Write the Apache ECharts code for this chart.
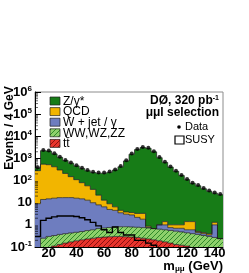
<!DOCTYPE html>
<html><head><meta charset="utf-8">
<script src="https://cdn.jsdelivr.net/npm/echarts@6/dist/echarts.min.js"></script>
<style>html,body{margin:0;padding:0;background:#fff}#c{width:249px;height:273px}</style>
</head><body><div id="c"></div>
<script>
// ---- data (4 GeV bins, bin centres in GeV) ----
const binCenters = [12,16,20,24,28,32,36,40,44,48,52,56,60,64,68,72,76,80,84,88,92,96,100,104,108,112,116,120,124,128,132,136,140,144];
const binWidth = 4;
const dataCounts = [400,2400,2300,1700,1200,850,650,490,380,300,250,230,230,255,320,450,820,1650,2650,3300,3000,2100,1150,700,430,280,180,118,80,63,46,36,29,25];
const zgamma = [90,1700,1630,1180,820,590,460,350,275,222,192,193,202,229,293,415,766,1546,2497,3097,2849,1979,1079,659,404,261,167,108.6,73.6,57.5,42.5,32.6,25.7,22.8];
const qcd = [271,536,505,404,283,193,133,94,65,45,30,14,6.5,4,2,1,0.8,0.8,1.1,1.5,0.1,0,0,0.4,0.25,0.3,0.3,0.8,0.8,0.05,0.05,0.05,0.3,0];
const wjet = [9,13.75,14.7,15.67,16.6,16.6,16.6,15.5,14.5,12.45,9.4,7.3,5.8,4.2,3.7,2.7,2.2,2.0,1.4,1.05,0.05,0,0.36,0.4,0.19,0.18,0.22,0.16,0.2,0.08,0.07,0.05,0.73,0];
const diboson = [0.05,0.25,0.30,0.22,0.24,0.25,0.26,0.27,0.29,0.32,0.35,0.41,0.44,0.47,0.50,0.52,0.53,0.52,0.51,0.50,0.49,0.47,0.45,0.43,0.41,0.39,0.36,0.33,0.31,0.29,0.26,0.24,0.22,0.19];
const ttbar = [0,0,0,0.11,0.13,0.15,0.17,0.19,0.21,0.23,0.25,0.27,0.28,0.29,0.30,0.30,0.29,0.28,0.27,0.25,0.23,0.21,0.19,0.17,0.15,0.13,0.12,0.11,0.09,0.08,0.07,0.06,0.05,0.05];
const susy = [0.3,1.6,2.0,2.3,2.5,2.5,2.5,2.4,2.1,1.7,1.3,0.9,0.6,0.45,0.8,0.45,0.35,0.35,0.2,0.2,0.15,0.12,0.08,0.07,0.06,0.05,0.05,0.05,0.05,0.05,0.05,0.05,0.05,0.05];
const xTicks = [20,40,60,80,100,120,140];
const yTicks = [0.1,1,10,100,1000,10000,100000,1000000];
const legendNames = ['Z/γ*','QCD','W + jet / γ','WW,WZ,ZZ','tt̄'];

const FONT = '"Liberation Sans", Arial, Helvetica, sans-serif';
function hatch(bg, fg) {
  const c = document.createElement('canvas'); c.width = 5; c.height = 5;
  const g = c.getContext('2d'); g.fillStyle = bg; g.fillRect(0,0,5,5);
  g.strokeStyle = fg; g.lineWidth = 1;
  g.beginPath();
  g.moveTo(-1,6); g.lineTo(6,-1);
  g.moveTo(-1,1); g.lineTo(1,-1);
  g.moveTo(4,6); g.lineTo(6,4);
  g.stroke();
  return {image: c, repeat: 'repeat'};
}
const fills = [hatch('#e8342c','#8a0f0f'), hatch('#8ed06b','#2f8a2a'), '#6e7dbf', '#f2b500', '#177c17'];
const layers = [ttbar, diboson, wjet, qcd, zgamma];
const cum = [];
let running = binCenters.map(() => 0);
layers.forEach(arr => { running = running.map((v, i) => v + arr[i]); cum.push(running.slice()); });
const FLOOR = 0.01;

function stepPoints(api, vals) {
  const pts = [];
  binCenters.forEach((c, i) => {
    const v = Math.max(vals[i], FLOOR);
    pts.push(api.coord([c - binWidth/2, v]));
    pts.push(api.coord([c + binWidth/2, v]));
  });
  return pts;
}

const stackSeries = {
  type: 'custom', clip: true, z: 2, silent: true,
  data: [[binCenters[0], 1]],
  renderItem(params, api) {
    const children = [];
    for (let L = 0; L < layers.length; L++) {
      const top = stepPoints(api, cum[L]);
      const bot = L === 0 ? stepPoints(api, binCenters.map(() => FLOOR)) : stepPoints(api, cum[L-1]);
      const poly = top.concat(bot.reverse());
      children.push({type: 'polygon', shape: {points: poly}, style: {fill: fills[L], stroke: null}});
    }
    for (let L = 0; L < layers.length; L++) {
      children.push({type: 'polyline', shape: {points: stepPoints(api, cum[L])}, style: {stroke: '#1c1c1c', lineWidth: 0.7, fill: null}});
    }
    return {type: 'group', children};
  }
};

const susySeries = {
  type: 'custom', clip: true, z: 4, silent: true,
  data: [[binCenters[0], 1]],
  renderItem(params, api) {
    const pts = stepPoints(api, susy);
    return {type: 'polyline', shape: {points: pts}, style: {stroke: '#000', lineWidth: 1.4, fill: null}};
  }
};

const minorTickSeries = {
  type: 'custom', clip: false, z: 5, silent: true,
  data: [[binCenters[0], 1]],
  renderItem(params, api) {
    const children = [];
    for (let e = -1; e < 6; e++) {
      for (let m = 2; m <= 9; m++) {
        const p = api.coord([10, m * Math.pow(10, e)]);
        children.push({type: 'line', shape: {x1: p[0], y1: p[1], x2: p[0] + 3, y2: p[1]}, style: {stroke: '#000', lineWidth: 0.6}});
      }
    }
    return {type: 'group', children};
  }
};

function yLabel(v) {
  const e = Math.round(Math.log10(v));
  if (e === 0) return '{b|1}';
  if (e === 1) return '{b|10}';
  return '{b|10}{s|' + e + '}';
}

const chart = echarts.init(document.getElementById('c'), null, {renderer: 'canvas'});
chart.setOption({
  animation: false,
  backgroundColor: '#fff',
  grid: {left: 35, right: 26, top: 92, bottom: 26, show: true, borderColor: '#8c8c8c', borderWidth: 1, backgroundColor: 'transparent'},
  xAxis: {
    type: 'value', min: 10, max: 146,
    axisLine: {show: true, lineStyle: {color: '#000', width: 1}},
    axisTick: {show: true, inside: true, length: 5, lineStyle: {color: '#000'}, customValues: xTicks},
    axisLabel: {customValues: xTicks, color: '#000', fontFamily: FONT, fontWeight: 'bold', fontSize: 13, margin: 0},
    splitLine: {show: false}
  },
  yAxis: {
    type: 'log', logBase: 10, min: 0.1, max: 1000000,
    axisLine: {show: true, lineStyle: {color: '#000', width: 1}},
    axisTick: {show: true, inside: true, length: 6, lineStyle: {color: '#000'}, customValues: yTicks},
    axisLabel: {
      customValues: yTicks, formatter: yLabel, margin: 3,
      rich: {
        b: {fontFamily: FONT, fontWeight: 'bold', fontSize: 13, color: '#000', lineHeight: 14},
        s: {fontFamily: FONT, fontWeight: 'bold', fontSize: 8, color: '#000', verticalAlign: 'top', lineHeight: 8}
      }
    },
    splitLine: {show: false}
  },
  series: [
    stackSeries,
    susySeries,
    {type: 'scatter', z: 6, symbol: 'circle', symbolSize: 4, itemStyle: {color: '#000'}, silent: true,
     data: binCenters.map((c, i) => [c, dataCounts[i]])},
    minorTickSeries
  ],
  graphic: [
    {type: 'text', x: 10, y: 128, rotation: Math.PI / 2, style: {text: 'Events / 4 GeV', font: 'bold 12px ' + FONT, fill: '#000', align: 'center', verticalAlign: 'middle'}},
    {type: 'text', x: 223, y: 266, style: {text: '{b|m}{s|μμ}{b| (GeV)}', align: 'right', verticalAlign: 'middle',
      rich: {b: {font: 'bold 13px ' + FONT, fill: '#000', lineHeight: 14}, s: {font: 'bold 8px ' + FONT, fill: '#000', verticalAlign: 'bottom', lineHeight: 8}}}},
    // legend swatches
    ...legendNames.map((n, j) => ({type: 'rect', shape: {x: 50, y: 97 + j * 10.6, width: 10, height: 8},
      style: {fill: fills[4 - j], stroke: '#1c1c1c', lineWidth: 0.7}})),
    ...legendNames.map((n, j) => ({type: 'text', x: 63, y: 101.5 + j * 10.6,
      style: {text: n, font: '12px ' + FONT, fill: '#000', verticalAlign: 'middle'}})),
    {type: 'text', x: 219, y: 101, style: {text: '{b|DØ, 320 pb}{s|-1}', align: 'right', verticalAlign: 'middle',
      rich: {b: {font: 'bold 12px ' + FONT, fill: '#000', lineHeight: 13}, s: {font: 'bold 7px ' + FONT, fill: '#000', verticalAlign: 'top', lineHeight: 7}}}},
    {type: 'text', x: 219, y: 113, style: {text: 'μμl selection', font: 'bold 12px ' + FONT, fill: '#000', align: 'right', verticalAlign: 'middle'}},
    {type: 'circle', shape: {cx: 179, cy: 127, r: 1.8}, style: {fill: '#000'}},
    {type: 'text', x: 185, y: 127, style: {text: 'Data', font: '11px ' + FONT, fill: '#000', verticalAlign: 'middle'}},
    {type: 'rect', shape: {x: 175, y: 136, width: 9, height: 8}, style: {fill: 'none', stroke: '#000', lineWidth: 1.2}},
    {type: 'text', x: 185, y: 140, style: {text: 'SUSY', font: '11px ' + FONT, fill: '#000', verticalAlign: 'middle'}}
  ]
});
</script></body></html>
